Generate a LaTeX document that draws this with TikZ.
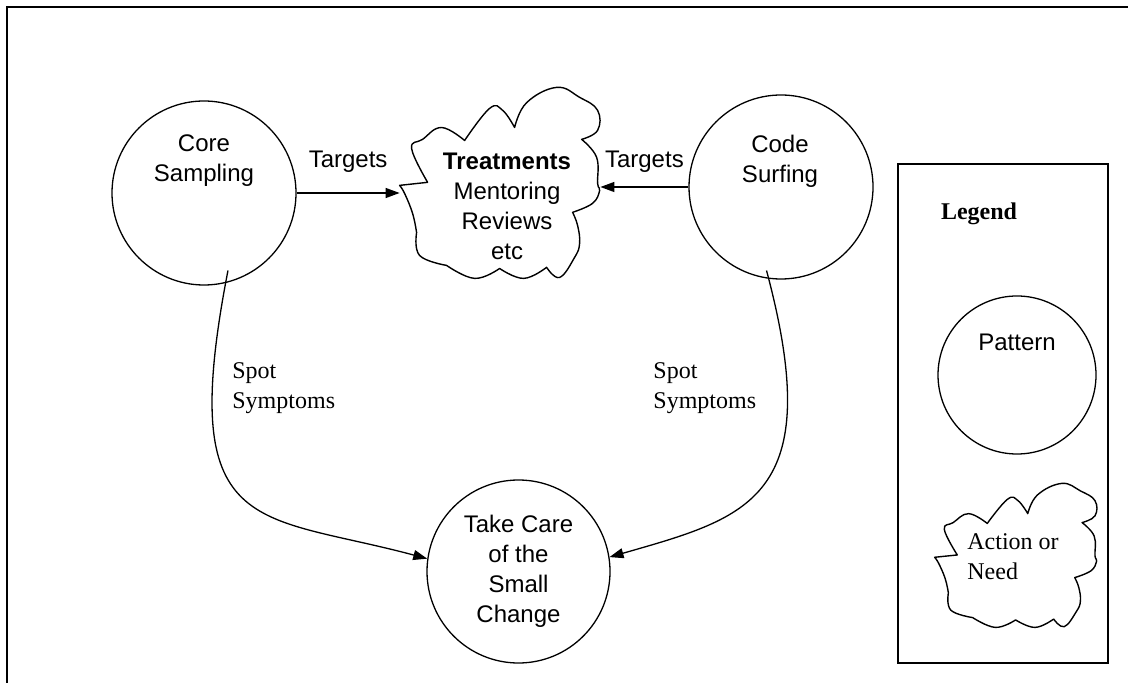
\documentclass[tikz,border=0pt]{standalone}
\usepackage{fontspec}
\setmainfont{Liberation Serif}
\setsansfont{Liberation Sans}
\usetikzlibrary{arrows.meta}
\tikzset{
  %% -- pattern (circle) --
  patt/.style={
    circle, draw, line width=0.65pt, inner sep=0pt, minimum size=#1
  },
  patt/.default=92pt,
  %% -- sans text inside shapes --
  ptxt/.style={font=\sffamily\fontsize{12}{15}\selectfont, align=center, inner sep=0pt},
  %% -- serif annotations --
  stxt/.style={font=\rmfamily\fontsize{12}{15}\selectfont, align=left, inner sep=0pt},
  %% -- connector --
  link/.style={-{Triangle[length=7pt, width=5pt]}, line width=0.65pt},
  %% -- holder box for an action cloud --
  cbox/.style={rectangle, inner sep=0pt},
  cloud line/.style={line width=0.7pt, line join=round},
  %% -- action/need cloud, drawn in a unit box --
  pics/cloud/.style={code={
    \draw[cloud line] (0,0.487) -- (0.14,0.503)
      -- plot[smooth, tension=0.7] coordinates {(0.14,0.503) (0.06,0.68) (0.115,0.728) (0.21,0.79) (0.325,0.722)}
      -- plot[smooth, tension=0.7] coordinates {(0.325,0.722) (0.45,0.89) (0.515,0.88) (0.575,0.79)}
      -- plot[smooth, tension=0.7] coordinates {(0.575,0.79) (0.635,0.92) (0.785,1.0) (0.9,0.948) (0.99,0.88) (0.99,0.775) (0.91,0.728)}
      -- plot[smooth, tension=0.7] coordinates {(0.91,0.728) (0.985,0.634) (0.99,0.497) (1.0,0.46) (0.965,0.393) (0.865,0.346)}
      -- plot[smooth, tension=0.7] coordinates {(0.865,0.346) (0.89,0.277) (0.9,0.183) (0.875,0.11) (0.8,0.005) (0.735,0.058)}
      -- plot[smooth, tension=0.7] coordinates {(0.735,0.058) (0.62,0) (0.5,0.052)}
      -- plot[smooth, tension=0.7] coordinates {(0.5,0.052) (0.375,0) (0.235,0.068)}
      -- plot[smooth, tension=0.7] coordinates {(0.235,0.068) (0.1,0.12) (0.085,0.24)}
      -- plot[smooth, tension=0.7] coordinates {(0.085,0.24) (0.065,0.34) (0.025,0.445) (0,0.487)}
      -- cycle;
  }},
}

\begin{document}
\begin{tikzpicture}[x=0.5pt, y=0.5pt]
\useasboundingbox (0,0) rectangle (1128,-683);

%% page frame (only top and left edge fall inside)
\draw[line width=1pt] (7,-683) -- (7,-7) -- (1128,-7);

%% ---------------------------------------------------------------
%%  patterns
%% ---------------------------------------------------------------
\node[patt] (cs) at (204,-193) {};
\node[ptxt] (cs-txt) at (204,-161) {Core\\Sampling};

\node[patt] (csf) at (781,-187) {};
\node[ptxt] (csf-txt) at (780,-161) {Code\\Surfing};

\node[patt=91.5pt, ptxt] (tc) at (518.5,-571.5)
  {Take Care\\of the\\Small\\Change};

%% treatments cloud
\node[cbox, minimum width=100pt, minimum height=95.5pt] (trt) at (500,-182.5) {};
\pic[x=100pt, y=95.5pt] at (trt.south west) {cloud};
\node[ptxt] (trt-txt) at (507,-206)
  {\textbf{Treatments}\\Mentoring\\Reviews\\etc};

%% ---------------------------------------------------------------
%%  connectors
%% ---------------------------------------------------------------
\draw[link] (cs.east) -- (trt.west |- cs.east)
  node[ptxt, midway, above=10pt] {Targets};
\draw[link] (csf.west) -- (trt.east |- csf.west)
  node[ptxt, midway, above=7pt] {Targets};

\draw[link] ([yshift=6pt]cs.-75)
  to[out=-101, in=165, out looseness=2.0, in looseness=1.3] (tc.172);
\draw[link] ([yshift=4pt]csf.-99)
  to[out=-75, in=16, out looseness=1.85, in looseness=1.13] (tc.9);

\node[stxt, anchor=west] (ss-l) at (232,-388) {Spot\\Symptoms};
\node[stxt, anchor=west] (ss-r) at (653,-388) {Spot\\Symptoms};

%% ---------------------------------------------------------------
%%  legend
%% ---------------------------------------------------------------
\draw[line width=1pt] (898,-164) rectangle (1108,-663);
\node[stxt, font=\rmfamily\bfseries\fontsize{12}{15}\selectfont] (lgd) at (979,-214) {Legend};

\node[patt=79pt] (lg-pat) at (1017,-375) {};
\node[ptxt] (lg-pat-txt) at (1017,-342) {Pattern};

\node[cbox, minimum width=81pt, minimum height=72pt] (lg-act) at (1016,-555) {};
\pic[x=81pt, y=72pt] at (lg-act.south west) {cloud};
\node[stxt, anchor=west] (lg-act-txt) at (967,-557) {Action or\\Need};

\end{tikzpicture}
\end{document}
